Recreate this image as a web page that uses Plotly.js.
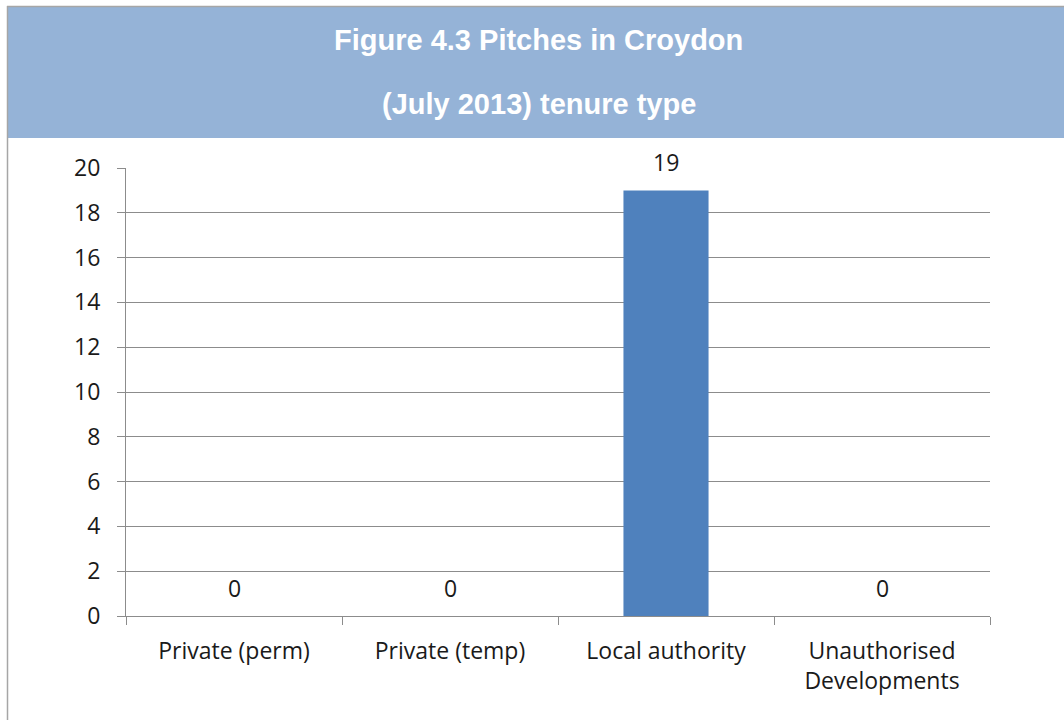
<!DOCTYPE html>
<html>
<head>
<meta charset="utf-8">
<script src="https://cdn.plot.ly/plotly-3.0.1.min.js"></script>
<style>
  html, body { margin: 0; padding: 0; background: #ffffff; }
  #chart { width: 1064px; height: 720px; }
</style>
</head>
<body>
<div id="chart"></div>
<script>
// Pitches by tenure type, Croydon, July 2013
const tenureTypes = ["Private (perm)", "Private (temp)", "Local authority", "Unauthorised<br>Developments"];
const pitchCounts = [0, 0, 19, 0];
const yTickValues = [0, 2, 4, 6, 8, 10, 12, 14, 16, 18, 20];

const titleLines = ["Figure 4.3 Pitches in Croydon", "(July 2013) tenure type"];

const W = 1064, H = 720;
const plotLeft = 126, plotRight = 990, plotTop = 168, plotBottom = 616;
const pw = plotRight - plotLeft, ph = plotBottom - plotTop;
const px = v => (v - plotLeft) / pw;        // page x -> paper x
const py = v => (plotBottom - v) / ph;      // page y -> paper y

const labelFont = { family: "'Open Sans', Lato, sans-serif", size: 23, color: "#1a1a1a" };
const titleFont = { family: "'Liberation Sans', Arial, sans-serif", size: 29, color: "#ffffff", weight: "bold" };
const gridColor = "#8c8c8c";

const trace = {
  type: "bar",
  x: tenureTypes,
  y: pitchCounts,
  marker: { color: "#4f81bd", line: { width: 0 } },
  hoverinfo: "x+y"
};

// value labels above each bar
const valueLabels = tenureTypes.map((c, i) => ({
  x: c, y: pitchCounts[i], xref: "x", yref: "y",
  text: String(pitchCounts[i]), showarrow: false,
  yanchor: "bottom", yshift: 10,
  font: labelFont
}));

// two-line heading inside the banner
const titleRows = [40, 104];
const headingLabels = titleLines.map((t, i) => ({
  xref: "paper", yref: "paper",
  x: px(538.5), y: py(titleRows[i]),
  xanchor: "center", yanchor: "middle",
  text: "<b>" + t + "</b>", showarrow: false,
  font: titleFont
}));

const layout = {
  width: W, height: H,
  margin: { l: plotLeft, r: W - plotRight, t: plotTop, b: H - plotBottom, pad: 0 },
  paper_bgcolor: "#ffffff",
  plot_bgcolor: "#ffffff",
  showlegend: false,
  bargap: 0.606,
  xaxis: {
    type: "category",
    tickson: "boundaries",
    ticks: "outside", ticklen: 8, tickcolor: gridColor, tickwidth: 1,
    showgrid: false,
    showline: true, linecolor: gridColor, linewidth: 1,
    tickfont: labelFont,
    ticklabelstandoff: 14,
    fixedrange: true
  },
  yaxis: {
    range: [0, 20],
    tickvals: yTickValues,
    ticks: "outside", ticklen: 8, tickcolor: gridColor, tickwidth: 1,
    showgrid: true, gridcolor: gridColor, gridwidth: 1,
    zeroline: false,
    showline: true, linecolor: gridColor, linewidth: 1,
    tickfont: labelFont,
    ticklabelstandoff: 12,
    fixedrange: true
  },
  shapes: [
    // title banner
    { type: "rect", xref: "paper", yref: "paper", layer: "below",
      x0: px(8), x1: px(W), y0: py(138), y1: py(7),
      fillcolor: "#95b3d7", line: { width: 0 } },
    // outer frame, top and left
    { type: "line", xref: "paper", yref: "paper",
      x0: px(7), x1: px(W), y0: py(6.5), y1: py(6.5),
      line: { color: "#a6a6a6", width: 1.5 } },
    { type: "line", xref: "paper", yref: "paper",
      x0: px(7.5), x1: px(7.5), y0: py(6), y1: py(H),
      line: { color: "#a6a6a6", width: 1.5 } }
  ],
  annotations: headingLabels.concat(valueLabels)
};

Plotly.newPlot("chart", [trace], layout, { displayModeBar: false, staticPlot: true });
</script>
</body>
</html>
